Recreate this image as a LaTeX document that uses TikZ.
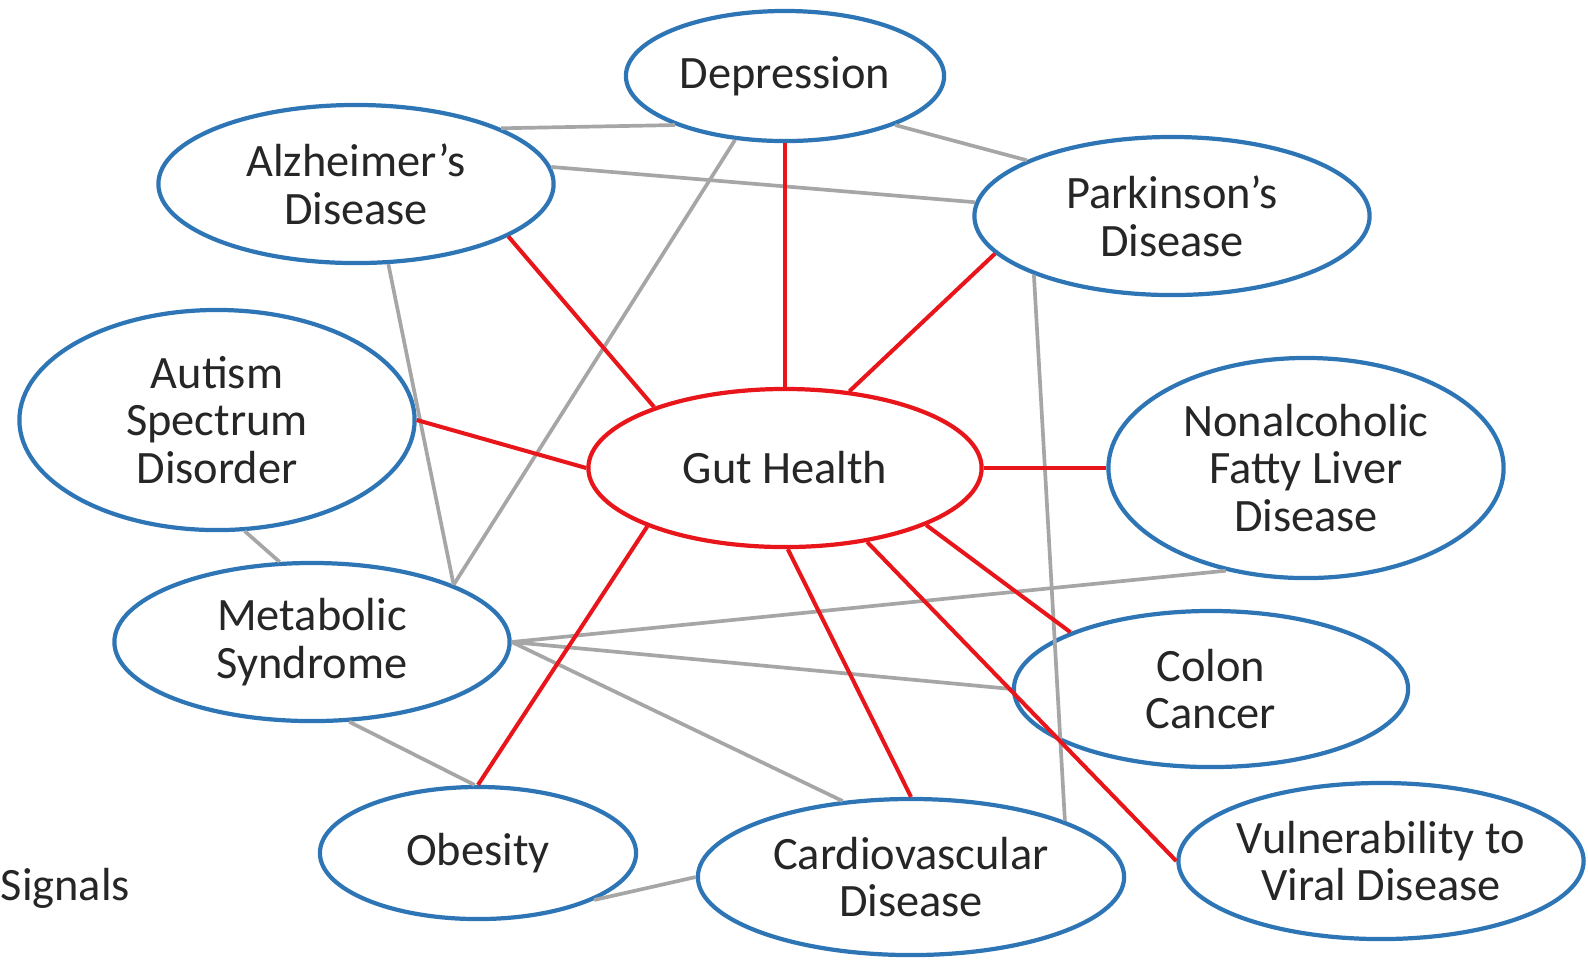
\documentclass[tikz,border=0pt]{standalone}
\usepackage{fontspec}
\setmainfont{Carlito}
\usetikzlibrary{shapes.geometric}
\definecolor{ovalblue}{HTML}{2E75B6}
\definecolor{linkred}{HTML}{E8161B}
\definecolor{linkgray}{HTML}{A6A6A6}
\definecolor{textgray}{HTML}{262626}

\begin{document}
\begin{tikzpicture}[x=0.01cm, y=-0.01cm] %Gut health
    \tikzstyle{disease} = [ellipse, draw=ovalblue, line width=1.2pt, fill=white, inner sep=0pt, align=center, text=textgray, font=\fontsize{13.2}{13.6}\selectfont]
    \tikzstyle{hub} = [disease, draw=linkred]
    \tikzstyle{redlink} = [draw=linkred, line width=1.15pt]
    \tikzstyle{graylink} = [draw=linkgray, line width=1.05pt]
    \useasboundingbox (0,0) rectangle (1588,959);
    \node[hub, minimum width=3.93cm, minimum height=1.58cm] (gut) at (785,468) {Gut Health};
    \node[disease, minimum width=3.18cm, minimum height=1.30cm] (dep) at (785,76) {Depression};
    \node[disease, minimum width=3.95cm, minimum height=1.58cm] (alz) at (356,184) {Alzheimer’s\\Disease};
    \node[disease, minimum width=3.95cm, minimum height=1.58cm] (park) at (1172,216) {Parkinson’s\\Disease};
    \node[disease, minimum width=3.95cm, minimum height=2.20cm] (aut) at (217,420) {Autism\\Spectrum\\Disorder};
    \node[disease, minimum width=3.95cm, minimum height=2.20cm] (nafld) at (1306,468) {Nonalcoholic\\Fatty Liver\\Disease};
    \node[disease, minimum width=3.95cm, minimum height=1.58cm] (met) at (312,642) {Metabolic\\Syndrome};
    \node[disease, minimum width=3.94cm, minimum height=1.56cm] (colon) at (1211,689) {Colon\\Cancer};
    \node[disease, minimum width=3.16cm, minimum height=1.32cm] (obes) at (478,853) {Obesity};
    \node[disease, minimum width=4.26cm, minimum height=1.56cm] (cardio) at (911,877) {Cardiovascular\\Disease};
    \node[disease, inner xsep=-3pt, minimum width=4.05cm, minimum height=1.56cm] (vul) at (1381,861) {Vulnerability to\\Viral Disease};
    \node[anchor=west, inner sep=0pt, text=textgray, font=\fontsize{13.2}{13.6}\selectfont] (sig) at (0,888) {Signals};
    % links between the diseases
    \draw[graylink] (alz.21) -- (dep.-156);
    \draw[graylink] (dep.-24) -- (park.159);
    \draw[graylink] (alz.5) -- (park.176);
    \draw[graylink] (dep.-128) -- (met.22);
    \draw[graylink] (alz.-68) -- (met.22);
    \draw[graylink] (aut.-76) -- (met.112);
    \draw[graylink] (met.0) -- (nafld.-128);
    \draw[graylink] (met.0) -- (colon.180);
    \draw[graylink] (met.0) -- (cardio.132);
    \draw[graylink] (park.-157) -- (cardio.20);
    \draw[graylink] (met.-65) -- (obes.93);
    \draw[graylink] (obes.-22) -- (cardio.180);
    % links from the gut
    \foreach \from/\name/\to in {90/dep/-90, 155/alz/-19, 50/park/-168, 180/aut/0, 0/nafld/180, -22/colon/158, -42/vul/180, -88/cardio/90, -157/obes/90}
    {
        \draw[redlink] (gut.\from) -- (\name.\to);
    }
\end{tikzpicture}
\end{document}
